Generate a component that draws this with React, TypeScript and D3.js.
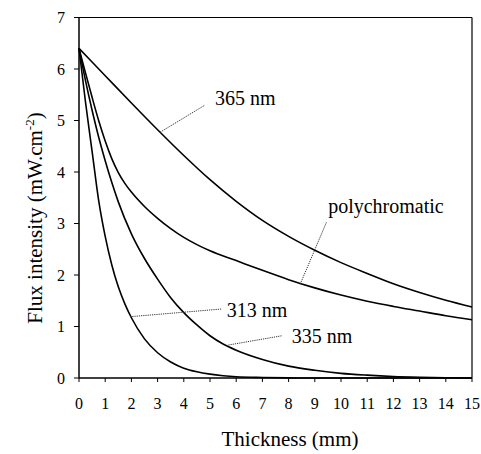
import React from "react";
import * as d3 from "d3";

// ---- data ----
const xTicks = [0, 1, 2, 3, 4, 5, 6, 7, 8, 9, 10, 11, 12, 13, 14, 15];
const yTicks = [0, 1, 2, 3, 4, 5, 6, 7];

const nm365X = [0, 1, 2, 3, 4, 5, 6, 7, 8, 9, 10, 11, 12, 13, 14, 15];
const nm365Y = [6.4, 5.87, 5.34, 4.82, 4.32, 3.85, 3.43, 3.06, 2.75, 2.48, 2.24, 2.03, 1.83, 1.66, 1.51, 1.38];

const polyX = [0, 0.25, 0.5, 0.75, 1, 1.25, 1.5, 1.75, 2, 2.5, 3, 3.5, 4, 4.5, 5, 6, 7, 8, 9, 10, 11, 12, 13, 14, 15];
const polyY = [6.4, 5.92, 5.45, 5.0, 4.6, 4.26, 3.99, 3.78, 3.61, 3.33, 3.1, 2.9, 2.73, 2.59, 2.47, 2.28, 2.09, 1.91, 1.75, 1.61, 1.49, 1.39, 1.3, 1.21, 1.13];

const nm335X = [0, 0.25, 0.5, 0.75, 1, 1.25, 1.5, 2, 2.5, 3, 3.5, 4, 4.5, 5, 5.5, 6, 7, 8, 9, 10, 11, 12, 13, 14, 15];
const nm335Y = [6.4, 5.77, 5.2, 4.68, 4.22, 3.8, 3.42, 2.8, 2.32, 1.92, 1.56, 1.27, 1.03, 0.82, 0.66, 0.54, 0.36, 0.23, 0.15, 0.09, 0.055, 0.03, 0.015, 0.005, 0];

const nm313X = [0, 0.25, 0.5, 0.75, 1, 1.25, 1.5, 1.75, 2, 2.5, 3, 3.5, 4, 4.5, 5, 5.5, 6, 7, 8, 9, 12, 15];
const nm313Y = [6.4, 5.35, 4.4, 3.45, 2.75, 2.2, 1.77, 1.44, 1.17, 0.76, 0.49, 0.31, 0.19, 0.12, 0.075, 0.045, 0.025, 0.01, 0.003, 0, 0, 0];

// annotation labels: text, anchor on curve [x,y], leader end [x,y], text position [x,y]
const labelTexts = ["365 nm", "polychromatic", "313 nm", "335 nm"];
const labelAnchors = [[3.09, 4.77], [8.44, 1.82], [1.95, 1.19], [5.7, 0.64]];
const labelLeaderEnds = [[4.81, 5.3], [9.45, 3.03], [5.45, 1.34], [7.74, 0.82]];
const labelPos = [[5.19, 5.3], [9.51, 3.2], [5.64, 1.18], [8.12, 0.68]];

const W = 481;
const H = 454;
const M = { left: 79, right: 9, top: 17.5, bottom: 76 };
const FONT = '"Liberation Serif", "Times New Roman", Times, serif';
const tStyle = { fontFamily: FONT };

export default function App() {
  const x = d3.scaleLinear().domain([0, 15]).range([M.left, W - M.right]);
  const y = d3.scaleLinear().domain([0, 7]).range([H - M.bottom, M.top]);

  const line = d3
    .line<[number, number]>()
    .x((d) => x(d[0]))
    .y((d) => y(d[1]))
    .curve(d3.curveMonotoneX);

  const series = [
    [nm365X, nm365Y],
    [polyX, polyY],
    [nm335X, nm335Y],
    [nm313X, nm313Y],
  ].map(([xs, ys]) => xs.map((v, i) => [v, ys[i]] as [number, number]));

  const x0 = x(0);
  const x1 = x(15);
  const y0 = y(0);
  const y1 = y(7);

  return (
    <svg
      width={W}
      height={H}
      style={{ position: "absolute", left: 0, top: 0, background: "#fff", fontFamily: FONT }}
    >
      <rect x={0} y={0} width={W} height={H} fill="#fff" />
      {/* frame */}
      <line x1={x0} x2={x1} y1={y1} y2={y1} stroke="#000" strokeWidth={1.2} />
      <line x1={x1} x2={x1} y1={y1} y2={y0} stroke="#000" strokeWidth={1.2} />
      <line x1={x0} x2={x1} y1={y0} y2={y0} stroke="#000" strokeWidth={1.5} />
      <line x1={x0} x2={x0} y1={y1} y2={y0} stroke="#000" strokeWidth={1.5} />

      {/* y ticks */}
      {yTicks.map((t) => (
        <g key={"y" + t}>
          <line x1={x0 - 5} x2={x0} y1={y(t)} y2={y(t)} stroke="#000" strokeWidth={1} />
          <text x={x0 - 14} y={y(t)} dy="0.35em" textAnchor="end" fontSize={16} style={tStyle}>
            {t}
          </text>
        </g>
      ))}
      {/* x ticks */}
      {xTicks.map((t) => (
        <g key={"x" + t}>
          <line x1={x(t)} x2={x(t)} y1={y0} y2={y0 + 4} stroke="#000" strokeWidth={1} />
          <text x={x(t)} y={y0 + 31} textAnchor="middle" fontSize={16} style={tStyle}>
            {t}
          </text>
        </g>
      ))}

      {/* curves */}
      {series.map((s, i) => (
        <path key={"s" + i} d={line(s) || ""} fill="none" stroke="#000" strokeWidth={1.6} />
      ))}

      {/* annotations */}
      {labelTexts.map((txt, i) => (
        <g key={"l" + i}>
          <line
            x1={x(labelAnchors[i][0])}
            y1={y(labelAnchors[i][1])}
            x2={x(labelLeaderEnds[i][0])}
            y2={y(labelLeaderEnds[i][1])}
            stroke="#333"
            strokeWidth={1}
            strokeDasharray="1.2,1"
          />
          <text x={x(labelPos[i][0])} y={y(labelPos[i][1])} fontSize={20} style={tStyle}>
            {txt}
          </text>
        </g>
      ))}

      {/* axis titles */}
      <text x={290} y={446} textAnchor="middle" fontSize={21} style={tStyle}>
        Thickness (mm)
      </text>
      <text
        transform={`translate(42, 218) rotate(-90)`}
        textAnchor="middle"
        fontSize={21}
        style={tStyle}
      >
        Flux intensity (mW.cm
        <tspan fontSize={13} dy={-8}>
          -2
        </tspan>
        <tspan dy={8}>)</tspan>
      </text>
    </svg>
  );
}
